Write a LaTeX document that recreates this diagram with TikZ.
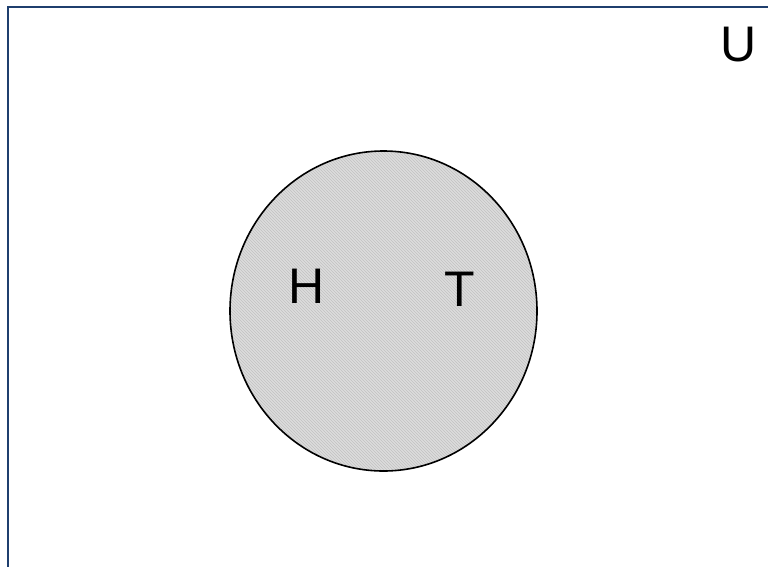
\documentclass[tikz,border=0pt]{standalone}
\usepackage{fontspec}
\setmainfont{Liberation Sans}
\usetikzlibrary{patterns}
\definecolor{framec}{HTML}{1F3F6E}
\definecolor{setfill}{HTML}{DDDDDD}
\definecolor{hatch}{HTML}{C2C2C2}
\tikzset{
  lbl/.style={inner sep=0pt, font=\fontsize{50}{60}\selectfont},
  setline/.style={draw=black, line width=1.6pt},
}
\begin{document}
\begin{tikzpicture}[x=1pt,y=-1pt]
\useasboundingbox (0,0) rectangle (768,566);
% universe frame
\draw[framec, line width=2pt] (8,580) -- (8,7) -- (780,7);
% set circle
\fill[setfill] (383.5,311) ellipse [x radius=153.5, y radius=160];
\fill[pattern=north west lines, pattern color=hatch] (383.5,311) ellipse [x radius=153.5, y radius=160];
\draw[setline] (383.5,311) ellipse [x radius=153.5, y radius=160];
\node[lbl] (H) at (307,286) {H};
\node[lbl] (T) at (460,289) {T};
\node[lbl] (U) at (739,45) {U};
\end{tikzpicture}
\end{document}
